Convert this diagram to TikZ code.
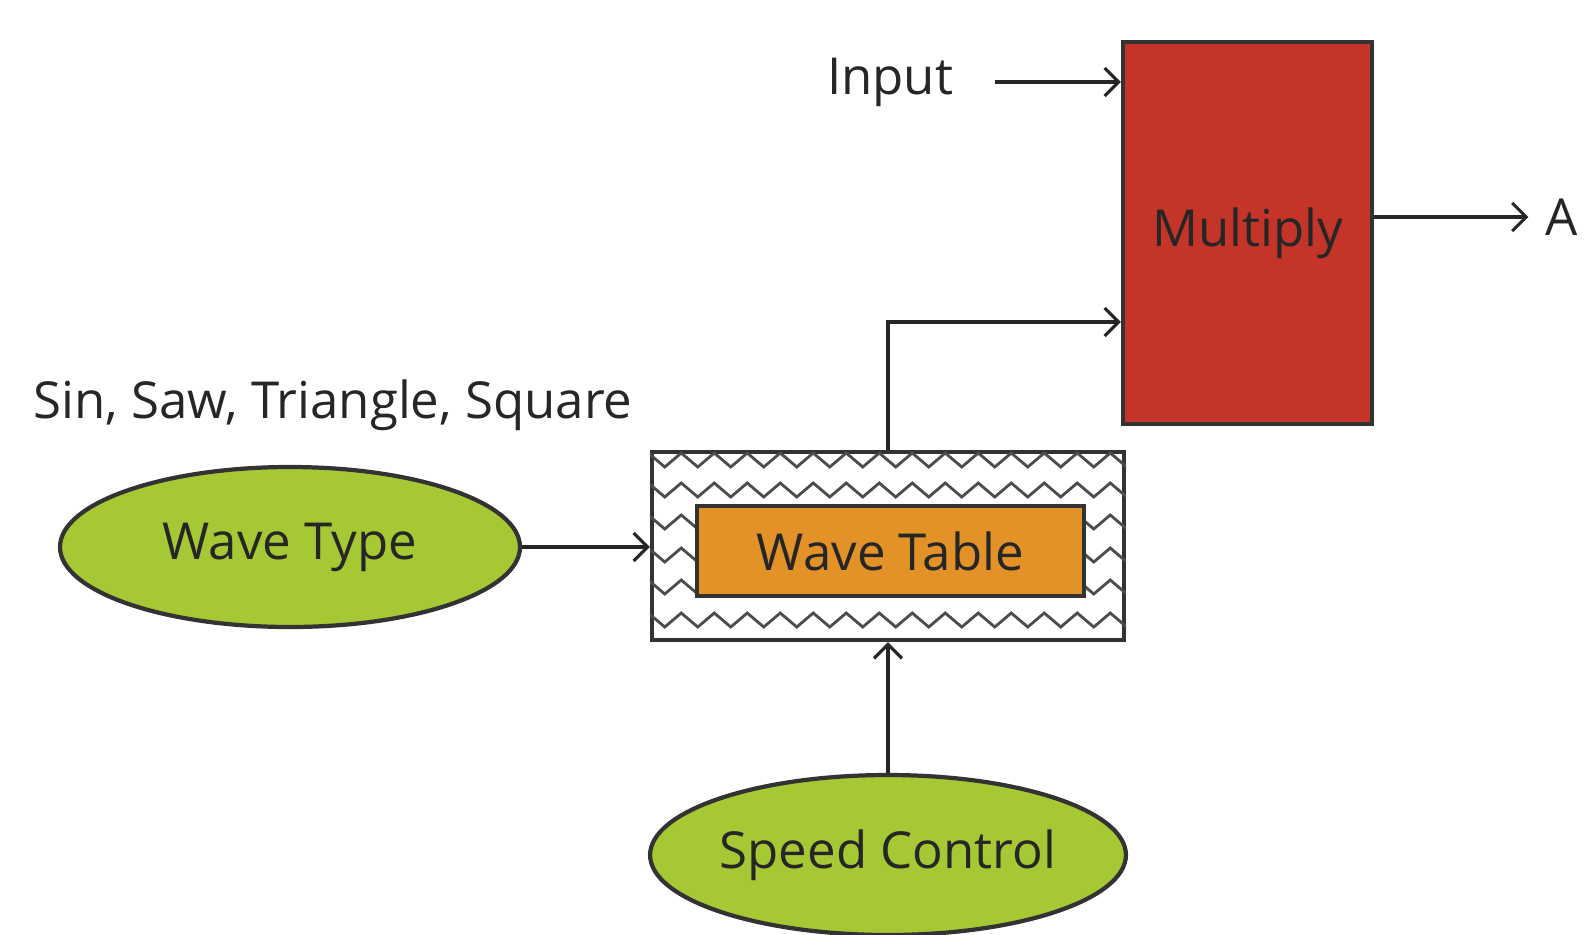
\documentclass[tikz,border=0pt]{standalone}
\usepackage{fontspec}
\setmainfont{Open Sans}
\usetikzlibrary{arrows.meta, positioning, shapes.geometric, decorations.pathmorphing}
\definecolor{mulred}{RGB}{196,52,40}
\definecolor{tblorange}{RGB}{226,146,38}
\definecolor{wavegreen}{RGB}{166,200,52}
\begin{document}
\begin{tikzpicture}[font=\fontsize{14.5}{17}\selectfont, text=black!85,
  arr/.style={-{Straight Barb[length=4pt,width=8pt]}, line width=0.9pt, draw=black!85},
  blk/.style={draw=black!80, line width=1.2pt},
  oval/.style={ellipse, blk, fill=wavegreen, inner sep=0pt, minimum width=4.6cm, minimum height=1.6cm},
  zz/.style={decorate, decoration={zigzag, segment length=0.33cm, amplitude=0.07cm}, line width=0.8pt, draw=black!70}]
  \useasboundingbox (0,0) rectangle (15.85,9.34);

  % Multiply block and its inputs
  \node[blk, fill=mulred, minimum width=2.49cm, minimum height=3.82cm] (mult) at (12.475,7.01) {Multiply};
  \node (input) at (8.90,8.52) {Input};
  \node (out) at (15.62,7.17) {A};
  \draw[arr] ([xshift=0.3cm]input.east) -- (input.east -| mult.west);
  \draw[arr] (mult.east |- out.west) -- ([xshift=-0.05cm]out.west);

  % Wave table with zigzag background
  \node[blk, fill=white, minimum width=4.72cm, minimum height=1.88cm] (tbl) at (8.88,3.88) {};
  \begin{scope}
    \clip (tbl.south west) rectangle (tbl.north east);
    \foreach \y in {4.74,4.44,4.12,3.79,3.47,3.14} {
      \draw[zz] (6.40,\y) -- (11.40,\y);
    }
  \end{scope}
  \node[blk, fill=tblorange, minimum width=3.87cm, minimum height=0.90cm] (wtab) at (8.905,3.83) {Wave Table};

  % Controls
  \node[oval] (wtype) at (2.90,3.87) {Wave Type};
  \node (kinds) at (3.33,5.29) {Sin, Saw, Triangle, Square};
  \node[oval, minimum width=4.64cm] (speed) at (8.88,0.79) {Speed Control};

  \draw[arr] (wtype.east) -- (wtype.east -| tbl.west);
  \draw[arr] (speed.north) -- (tbl.south);
  \draw[arr] (tbl.north) |- (mult.west |- 0,6.12);
\end{tikzpicture}
\end{document}
